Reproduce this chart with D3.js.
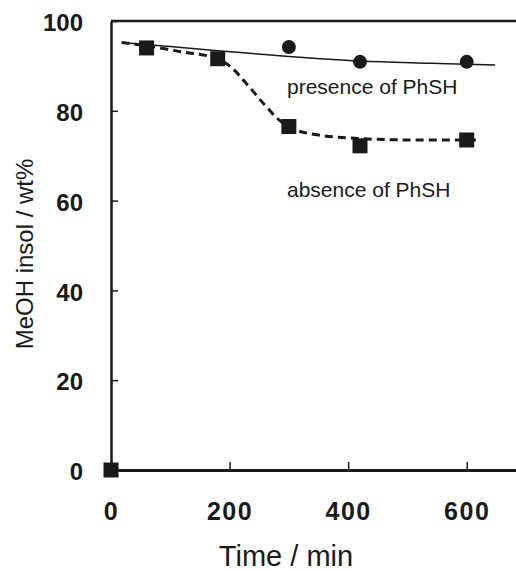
<!DOCTYPE html>
<html>
<head>
  <meta charset="UTF-8">
  <style>
    body { margin: 0; background: #fff; }
    svg { display: block; font-family: "Liberation Sans", Arial, sans-serif; }
  </style>
</head>
<body>
<svg></svg>
<script src="https://d3js.org/d3.v7.min.js"></script>

<script>

// measured points
let time = [0, 60, 180, 300, 420, 600];
let absence = [0, 94.0, 91.6, 76.5, 72.2, 73.5];
let presenceTime = [300, 420, 600];
let presence = [94.2, 90.9, 90.9];

// trend curves as drawn on the figure
let absenceFitTime = [18, 60, 120, 170, 200, 230, 260, 285, 310, 350, 420, 500, 622];
let absenceFit = [95.2, 94.5, 93.1, 92.0, 90.0, 85.8, 81.2, 77.8, 75.8, 74.6, 73.8, 73.5, 73.5];
let presenceFitTime = [18, 100, 180, 300, 420, 540, 648];
let presenceFit = [95.2, 94.3, 93.4, 92.1, 91.1, 90.6, 90.2];

let xTicks = [0, 200, 400, 600];
let yTicks = [0, 20, 40, 60, 80, 100];

let width = 516, height = 571;
let ink = "#1a1a1a";

let svg = d3.select("svg")
    .attr("width", width)
    .attr("height", height);

let x = d3.scaleLinear().domain([0, 700]).range([111, 526]);
let y = d3.scaleLinear().domain([0, 100]).range([470, 21]);

// top frame line
svg.append("line")
.attr("x1", x(0)).attr("x2", x(700))
.attr("y1", y(100)).attr("y2", y(100))
.attr("stroke", ink)
.attr("stroke-width", 2.5);

let xAxis = svg.append("g")
.attr("transform", "translate(0," + y(0) + ")")
.call(d3.axisBottom(x).tickValues(xTicks).tickSize(-8).tickSizeOuter(0).tickPadding(32));

let yAxis = svg.append("g")
.attr("transform", "translate(" + x(0) + ",0)")
.call(d3.axisLeft(y).tickValues(yTicks).tickSize(-7).tickSizeOuter(0).tickPadding(28));

xAxis.select(".domain").attr("stroke", ink).attr("stroke-width", 3);
yAxis.select(".domain").attr("stroke", ink).attr("stroke-width", 2.5);
svg.selectAll(".tick line").attr("stroke", ink).attr("stroke-width", 1.5);

xAxis.selectAll("text")
.attr("fill", ink)
.attr("font-size", 25)
.attr("font-weight", "bold")
.attr("letter-spacing", 1.5)
.attr("font-family", "Liberation Sans, Arial, sans-serif");

yAxis.selectAll("text")
.attr("fill", ink)
.attr("font-size", 24)
.attr("font-weight", "bold")
.attr("dy", "0.4em")
.attr("font-family", "Liberation Sans, Arial, sans-serif");

// axis titles
svg.append("text")
.attr("x", 286)
.attr("y", 566)
.attr("text-anchor", "middle")
.attr("font-size", 29)
.attr("fill", ink)
.text("Time / min");

svg.append("text")
.attr("transform", "translate(33,254) rotate(-90)")
.attr("text-anchor", "middle")
.attr("font-size", 24)
.attr("fill", ink)
.text("MeOH insol / wt%");

// curves
let line = d3.line()
.x(d => x(d[0]))
.y(d => y(d[1]))
.curve(d3.curveCatmullRom.alpha(0.5));

svg.append("path")
.datum(presenceFitTime.map((t, i) => [t, presenceFit[i]]))
.attr("d", line)
.attr("fill", "none")
.attr("stroke", ink)
.attr("stroke-width", 1.5);

svg.append("path")
.datum(absenceFitTime.map((t, i) => [t, absenceFit[i]]))
.attr("d", line)
.attr("fill", "none")
.attr("stroke", ink)
.attr("stroke-width", 3)
.attr("stroke-dasharray", "8,5");

// markers
svg.append("g")
.selectAll("circle")
.data(presenceTime.map((t, i) => [t, presence[i]]))
.enter()
.append("circle")
.attr("cx", d => x(d[0]))
.attr("cy", d => y(d[1]))
.attr("r", 7)
.attr("fill", ink);

let sq = 15;
svg.append("g")
.selectAll("rect")
.data(time.map((t, i) => [t, absence[i]]))
.enter()
.append("rect")
.attr("x", d => x(d[0]) - sq / 2)
.attr("y", d => y(d[1]) - sq / 2)
.attr("width", sq)
.attr("height", sq)
.attr("fill", ink);

// labels
svg.append("text")
.attr("x", 287)
.attr("y", 94)
.attr("font-size", 21)
.attr("fill", ink)
.text("presence of PhSH");

svg.append("text")
.attr("x", 287)
.attr("y", 197)
.attr("font-size", 21)
.attr("fill", ink)
.text("absence of PhSH");

</script>

</body>
</html>
